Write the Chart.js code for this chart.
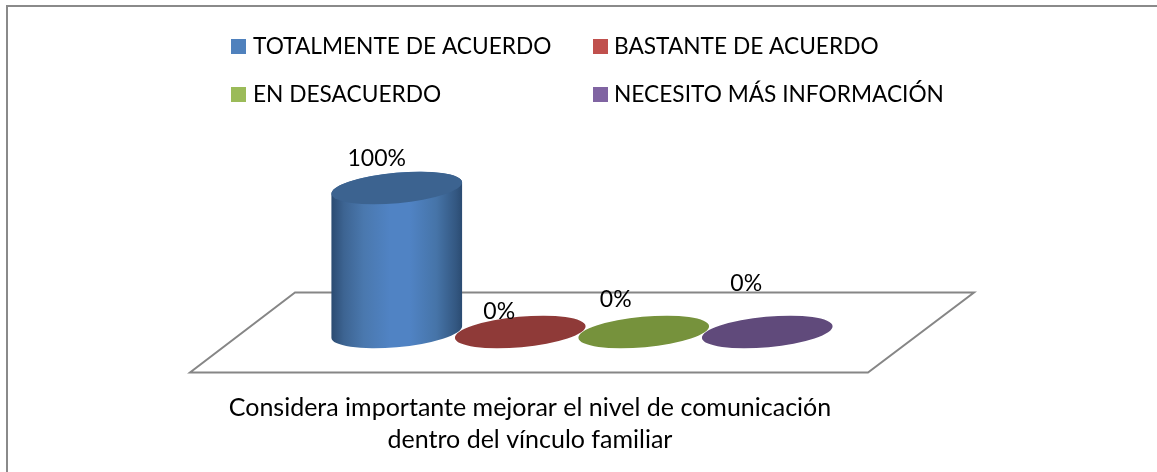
<!DOCTYPE html>
<html lang="es">
<head>
<meta charset="utf-8">
<title>Considera importante mejorar el nivel de comunicación</title>
<script src="https://cdn.jsdelivr.net/npm/chart.js@4"></script>
<style>
  html, body { margin: 0; padding: 0; background: #fff; }
  #marco { position: absolute; left: 6px; top: 5px; right: 0; bottom: 0; border-left: 2px solid #8a8a8a; border-top: 2px solid #8a8a8a; }
  canvas { position: absolute; left: 0; top: 0; }
</style>
</head>
<body>
<div id="marco"></div>
<canvas id="grafico" width="1157" height="472"></canvas>
<script>
// datos
const categorias = ['TOTALMENTE DE ACUERDO', 'BASTANTE DE ACUERDO', 'EN DESACUERDO', 'NECESITO MÁS INFORMACIÓN'];
const valores = [100, 0, 0, 0];
const titulo = ['Considera importante mejorar el nivel de comunicación', 'dentro del vínculo familiar'];

// colores
const colorLeyenda = ['#4f81bd', '#c0504d', '#9bbb59', '#8064a2'];
const colorTapa = ['#3c6390', '#8f3a38', '#76923c', '#604a7b'];
const FUENTE = '"Lato", "Carlito", sans-serif';

// la etiqueta de cada barra no va centrada en el original
const desplazaEtiqueta = [[-20, -29], [-21, -20], [-28, -32], [-21, -48]];

// elipse inclinada de la base y la tapa
const RADIO_X = 65.6, RADIO_Y = 15.2, GIRO = -5.25 * Math.PI / 180;

const piso = {
  id: 'piso',
  beforeDatasetsDraw(chart) {
    const { ctx, chartArea: a } = chart;
    const y0 = chart.scales.y.getPixelForValue(0);
    ctx.save();
    ctx.strokeStyle = '#868686';
    ctx.lineWidth = 2;
    ctx.beginPath();
    ctx.moveTo(a.left - 40, y0 - 39.5);
    ctx.lineTo(a.right + 145, y0 - 39.5);
    ctx.lineTo(a.right + 39, y0 + 40.5);
    ctx.lineTo(a.left - 145, y0 + 40.5);
    ctx.closePath();
    ctx.stroke();
    ctx.restore();
  }
};

const cilindros = {
  id: 'cilindros',
  afterDatasetsDraw(chart) {
    const { ctx } = chart;
    const t0 = Math.atan(-(RADIO_Y / RADIO_X) * Math.tan(GIRO));
    chart.getDatasetMeta(0).data.forEach((barra, i) => {
      const { x, y, base } = barra.getProps(['x', 'y', 'base'], true);
      ctx.save();
      if (base - y > 0.5) {
        const grad = ctx.createLinearGradient(x - 66, 0, x + 66, 0);
        grad.addColorStop(0, '#2a4a70');
        grad.addColorStop(0.1, '#3d6492');
        grad.addColorStop(0.25, '#4a78ae');
        grad.addColorStop(0.45, '#5083c4');
        grad.addColorStop(0.6, '#5083c4');
        grad.addColorStop(0.8, '#4674a8');
        grad.addColorStop(0.95, '#335781');
        grad.addColorStop(1, '#2a4a70');
        ctx.fillStyle = grad;
        ctx.beginPath();
        ctx.ellipse(x, base, RADIO_X, RADIO_Y, GIRO, t0, t0 + Math.PI);
        ctx.ellipse(x, y, RADIO_X, RADIO_Y, GIRO, t0 + Math.PI, t0 + 2 * Math.PI);
        ctx.closePath();
        ctx.fill();
      }
      ctx.fillStyle = colorTapa[i];
      ctx.beginPath();
      ctx.ellipse(x, y, RADIO_X, RADIO_Y, GIRO, 0, 2 * Math.PI);
      ctx.fill();
      ctx.restore();
    });
  }
};

const textos = {
  id: 'textos',
  afterDraw(chart) {
    const { ctx } = chart;
    ctx.save();
    ctx.fillStyle = '#000';
    ctx.textBaseline = 'middle';

    // etiquetas
    ctx.font = '23px ' + FUENTE;
    ctx.textAlign = 'center';
    chart.getDatasetMeta(0).data.forEach((barra, i) => {
      const [dx, dy] = desplazaEtiqueta[i];
      ctx.fillText(valores[i] + '%', barra.x + dx, barra.y + dy);
    });

    // leyenda en dos columnas
    ctx.font = '22.7px ' + FUENTE;
    ctx.textAlign = 'left';
    categorias.forEach((nombre, i) => {
      const lx = i % 2 ? 593 : 231;
      const ly = i < 2 ? 46.5 : 94.5;
      ctx.fillStyle = colorLeyenda[i];
      ctx.fillRect(lx, ly - 7.5, 15, 15);
      ctx.fillStyle = '#000';
      ctx.fillText(nombre, lx + (i % 2 ? 21 : 22), ly);
    });

    // titulo abajo
    ctx.font = '25px ' + FUENTE;
    ctx.textAlign = 'center';
    ctx.fillText(titulo[0], 530, 408);
    ctx.fillText(titulo[1], 530, 440);
    ctx.restore();
  }
};

new Chart(document.getElementById('grafico'), {
  type: 'bar',
  data: {
    labels: categorias,
    datasets: [{ data: valores, backgroundColor: 'rgba(0,0,0,0)', barThickness: 130 }]
  },
  options: {
    responsive: false,
    animation: false,
    layout: { padding: { left: 335, right: 328, top: 188, bottom: 140 } },
    plugins: { legend: { display: false }, tooltip: { enabled: false } },
    scales: {
      x: { display: false },
      y: { display: false, min: 0, max: 100 }
    }
  },
  plugins: [piso, cilindros, textos]
});
</script>
</body>
</html>
